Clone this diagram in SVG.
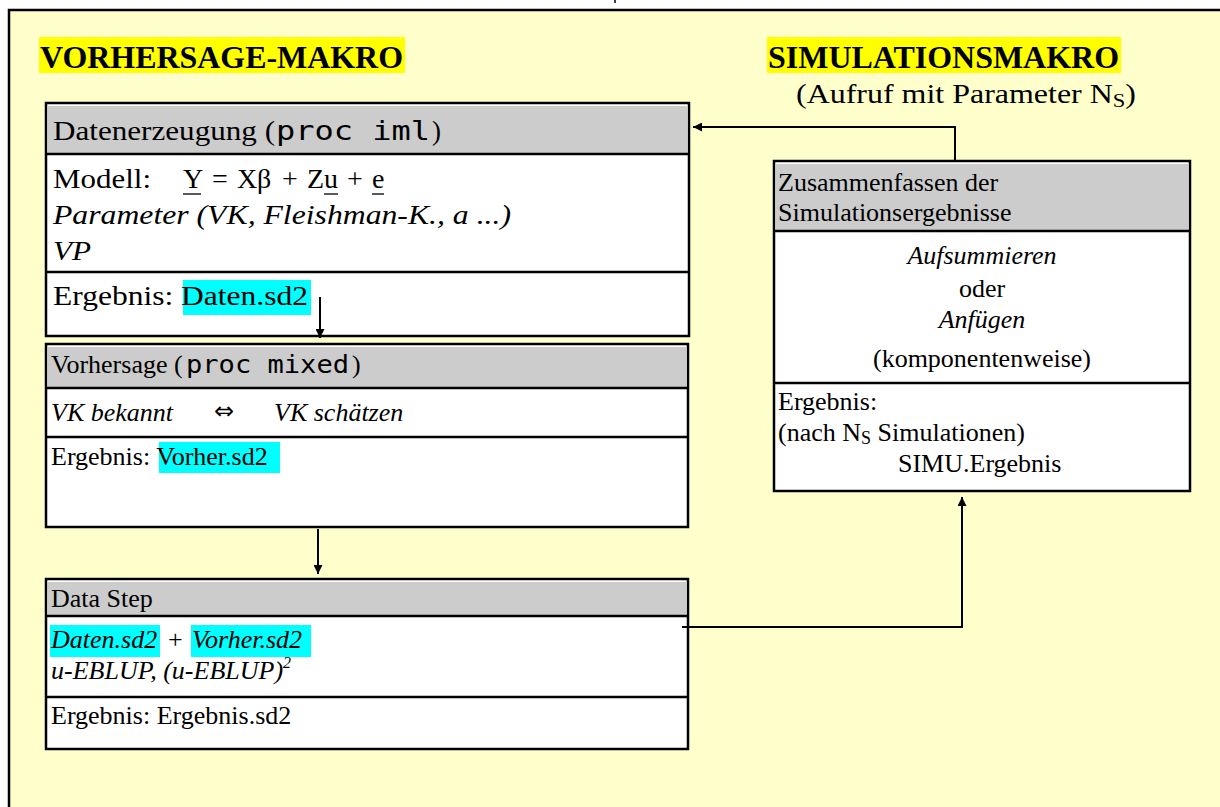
<svg xmlns="http://www.w3.org/2000/svg" width="1220" height="807" viewBox="0 0 1220 807">
<defs>
<style>
.t{font-family:"Liberation Serif","Times New Roman",serif;fill:#000}
.i{font-style:italic}
.b{font-weight:bold}
.m{font-family:"DejaVu Sans Mono","Liberation Mono",monospace}
.box{fill:#fff;stroke:#000;stroke-width:2.5}
.hdr{fill:#cccccc}
.sep{stroke:#000;stroke-width:2.5}
.ul{stroke:#000;stroke-width:1.3}
.ln{stroke:#000;stroke-width:2;fill:none}
.cy{fill:#00ffff}
.ye{fill:#ffff00}
</style>
<marker id="ah" viewBox="0 0 10 10" refX="10" refY="5" markerWidth="12" markerHeight="9" markerUnits="userSpaceOnUse" orient="auto">
<path d="M0,0 L10,5 L0,10 z" fill="#000"/>
</marker>
<marker id="ahl" viewBox="0 0 10 10" refX="10" refY="5" markerWidth="16" markerHeight="9" markerUnits="userSpaceOnUse" orient="auto">
<path d="M0,0 L10,5 L0,10 z" fill="#000"/>
</marker>
</defs>
<rect x="9" y="10" width="1220" height="810" fill="#ffffcc" stroke="#000" stroke-width="2.5"/>
<line x1="615" y1="0" x2="615" y2="3" stroke="#000" stroke-width="1.5"/>

<g id="title-left">
<rect class="ye" x="39" y="37" width="366" height="36"/>
<text class="t b" x="40" y="68" font-size="32" textLength="363" lengthAdjust="spacingAndGlyphs">VORHERSAGE-MAKRO</text>
</g>
<g id="title-right">
<rect class="ye" x="767" y="37" width="354" height="36"/>
<text class="t b" x="768" y="68" font-size="32" textLength="351" lengthAdjust="spacingAndGlyphs">SIMULATIONSMAKRO</text>
<text class="t" x="796" y="103" font-size="27" textLength="340" lengthAdjust="spacingAndGlyphs">(Aufruf mit Parameter N<tspan font-size="19" dy="4">S</tspan><tspan dy="-4">)</tspan></text>
</g>

<g id="datenerzeugung">
<rect class="box" x="46" y="103" width="643" height="233"/>
<rect class="hdr" x="47.5" y="106" width="640" height="47"/>
<line class="sep" x1="46" y1="154" x2="689" y2="154"/>
<line class="sep" x1="46" y1="272" x2="689" y2="272"/>
<text class="t" x="53" y="140" font-size="27" textLength="222" lengthAdjust="spacingAndGlyphs">Datenerzeugung (</text>
<text class="t m" x="276" y="140" font-size="27" textLength="154" lengthAdjust="spacingAndGlyphs">proc iml</text>
<text class="t" x="432" y="140" font-size="27">)</text>
<text class="t" x="53" y="188" font-size="27" textLength="98" lengthAdjust="spacingAndGlyphs">Modell:</text>
<text class="t" font-size="28" y="188"><tspan x="183">Y</tspan><tspan x="212">=</tspan><tspan x="237">X</tspan><tspan x="257">β</tspan><tspan x="282">+</tspan><tspan x="307">Z</tspan><tspan x="324">u</tspan><tspan x="347">+</tspan><tspan x="372">e</tspan></text>
<line class="ul" x1="183" y1="194" x2="201" y2="194"/>
<line class="ul" x1="324" y1="194" x2="338" y2="194"/>
<line class="ul" x1="372" y1="194" x2="384" y2="194"/>
<text class="t i" x="53" y="224" font-size="27" textLength="458" lengthAdjust="spacingAndGlyphs">Parameter (VK, Fleishman-K., a ...)</text>
<text class="t i" x="53" y="260" font-size="27" textLength="38" lengthAdjust="spacingAndGlyphs">VP</text>
<rect class="cy" x="183" y="280" width="128" height="35"/>
<text class="t" x="53" y="305" font-size="27" textLength="255" lengthAdjust="spacingAndGlyphs">Ergebnis: Daten.sd2</text>
</g>

<g id="vorhersage">
<rect class="box" x="46" y="344" width="642" height="183"/>
<rect class="hdr" x="47.5" y="347" width="639" height="40"/>
<line class="sep" x1="46" y1="388" x2="688" y2="388"/>
<line class="sep" x1="46" y1="437" x2="688" y2="437"/>
<text class="t" x="51" y="373" font-size="26">Vorhersage (</text>
<text class="t m" x="186" y="373" font-size="25" textLength="163" lengthAdjust="spacingAndGlyphs">proc mixed</text>
<text class="t" x="352" y="373" font-size="26">)</text>
<text class="t i" x="51" y="421" font-size="26">VK bekannt</text>
<text x="214" y="419" font-size="24" font-family="DejaVu Sans, sans-serif">⇔</text>
<text class="t i" x="274" y="421" font-size="26">VK schätzen</text>
<rect class="cy" x="159" y="442" width="121" height="31"/>
<text class="t" x="51" y="465" font-size="26">Ergebnis: Vorher.sd2</text>
</g>

<g id="datastep">
<rect class="box" x="46" y="579" width="642" height="170"/>
<rect class="hdr" x="47.5" y="582" width="639" height="33"/>
<line class="sep" x1="46" y1="616" x2="688" y2="616"/>
<line class="sep" x1="46" y1="697" x2="688" y2="697"/>
<text class="t" x="51" y="607" font-size="26">Data Step</text>
<rect class="cy" x="50" y="625" width="110" height="32"/>
<rect class="cy" x="191" y="625" width="120" height="32"/>
<text class="t i" x="51" y="648" font-size="26">Daten.sd2</text>
<text class="t" x="168" y="648" font-size="26">+</text>
<text class="t i" x="192" y="648" font-size="26">Vorher.sd2</text>
<text class="t i" x="51" y="679" font-size="26">u-EBLUP, (u-EBLUP)<tspan font-size="16" dy="-11">2</tspan></text>
<text class="t" x="51" y="724" font-size="26">Ergebnis: Ergebnis.sd2</text>
</g>

<g id="zusammenfassen">
<rect class="box" x="774" y="161" width="416" height="330"/>
<rect class="hdr" x="775.5" y="164" width="413" height="66"/>
<line class="sep" x1="774" y1="231" x2="1190" y2="231"/>
<line class="sep" x1="774" y1="383" x2="1190" y2="383"/>
<text class="t" x="778" y="191" font-size="26">Zusammenfassen der</text>
<text class="t" x="778" y="221" font-size="26">Simulationsergebnisse</text>
<text class="t i" x="982" y="264" font-size="26" text-anchor="middle">Aufsummieren</text>
<text class="t" x="982" y="297" font-size="26" text-anchor="middle">oder</text>
<text class="t i" x="982" y="328" font-size="26" text-anchor="middle">Anfügen</text>
<text class="t" x="982" y="367" font-size="26" text-anchor="middle">(komponentenweise)</text>
<text class="t" x="778" y="410" font-size="26">Ergebnis:</text>
<text class="t" x="778" y="441" font-size="26">(nach N<tspan font-size="18" dy="3">S</tspan><tspan dy="-3"> Simulationen)</tspan></text>
<text class="t" x="898" y="472" font-size="26">SIMU.Ergebnis</text>
</g>

<g id="connectors">
<line class="ln" x1="320" y1="297" x2="320" y2="338" marker-end="url(#ah)"/>
<line class="ln" x1="318" y1="529" x2="318" y2="574" marker-end="url(#ah)"/>
<polyline class="ln" points="682,627 962,627 962,497" marker-end="url(#ah)"/>
<polyline class="ln" points="955,161 955,127 693,127" marker-end="url(#ahl)"/>
</g>
</svg>
